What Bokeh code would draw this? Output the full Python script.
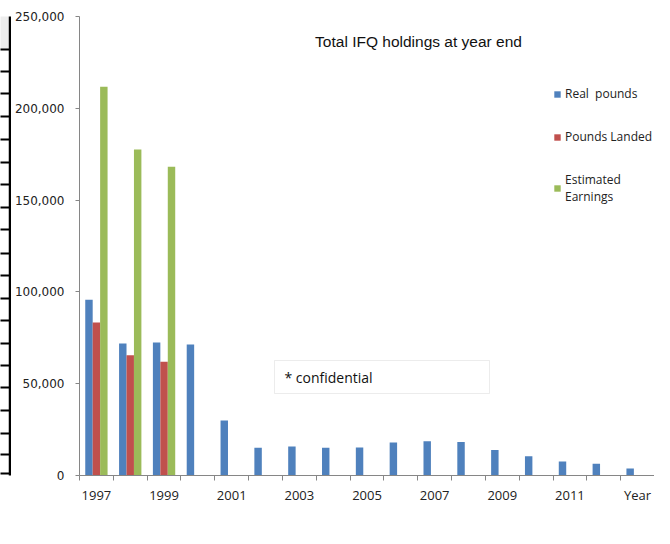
from bokeh.plotting import figure
from bokeh.layouts import row
from bokeh.models import (FixedTicker, NumeralTickFormatter, Range1d, Legend, LegendItem,
                          Label, BoxAnnotation, ColumnDataSource)
from bokeh.embed import file_html
from bokeh.resources import INLINE

# ---- data ----
years = list(range(1997, 2014))
real_pounds = [95700, 71900, 72400, 71400, 30000, 15100, 15800, 15100, 15300,
               18000, 18700, 18300, 13900, 10500, 7600, 6400, 3800]
landed_years = [1997, 1998, 1999]
pounds_landed = [83300, 65500, 61900]
estimated_earnings = [211700, 177600, 168100]
label_years = [1997, 1999, 2001, 2003, 2005, 2007, 2009, 2011, 2013]
tick_labels = ["1997", "1999", "2001", "2003", "2005", "2007", "2009", "2011", "Year"]
y_ticks = [0, 50000, 100000, 150000, 200000, 250000]
series_names = ["Real  pounds", "Pounds Landed", "Estimated\nEarnings"]
title_text = "Total IFQ holdings at year end"
note_text = "* confidential"

BLUE, RED, GREEN = "#4F81BD", "#C0504D", "#9BBB59"
FONT = "Open Sans"
TOP, BOTTOM = 16, 53

# ---- left page fragment (table border cut off in the screenshot) ----
edge = figure(width=11, height=528, output_backend="svg", toolbar_location=None,
              x_range=Range1d(3, 14), y_range=Range1d(528 - BOTTOM, TOP),
              x_axis_location=None, y_axis_location=None)
edge.grid.visible = False
edge.outline_line_color = None
edge.min_border = 0
edge.min_border_top = TOP
edge.min_border_bottom = BOTTOM
edge_rule_y = [49, 71, 93, 116, 139, 162, 184, 207, 229, 253, 275, 298, 320,
               343, 365, 387, 410, 433, 454, 473]
edge.quad(left=[0], right=[11], top=[0], bottom=[49], fill_color="#EDEDED", line_color=None)
edge.segment(x0=[0] * len(edge_rule_y), x1=[12] * len(edge_rule_y),
             y0=edge_rule_y, y1=edge_rule_y, line_color="black", line_width=2)
edge.segment(x0=[12.5], x1=[12.5], y0=[0], y1=[528], line_color="black", line_width=2.5)

# ---- chart ----
p = figure(width=643, height=528, output_backend="svg", toolbar_location=None,
           x_range=Range1d(years[0] - 0.5, years[-1] + 0.5),
           y_range=Range1d(0, 250000))
p.min_border_left = 60
p.min_border_top = TOP
p.min_border_bottom = BOTTOM
p.min_border_right = 0
p.outline_line_color = None
p.xgrid.grid_line_color = None
p.ygrid.grid_line_color = None
p.background_fill_color = "white"
p.border_fill_color = "white"

w = 0.22
src_real = ColumnDataSource(dict(x=[y - 0.22 for y in years], top=real_pounds))
src_land = ColumnDataSource(dict(x=[y + 0.0 for y in landed_years], top=pounds_landed))
src_earn = ColumnDataSource(dict(x=[y + 0.22 for y in landed_years], top=estimated_earnings))
r1 = p.vbar(x="x", top="top", width=w, source=src_real, fill_color=BLUE, line_color=None)
r2 = p.vbar(x="x", top="top", width=w, source=src_land, fill_color=RED, line_color=None)
r3 = p.vbar(x="x", top="top", width=w, source=src_earn, fill_color=GREEN, line_color=None)

# y axis
yax = p.yaxis[0]
yax.ticker = FixedTicker(ticks=y_ticks, minor_ticks=[])
yax.formatter = NumeralTickFormatter(format="0,0")
yax.axis_line_color = "#868686"
yax.major_tick_line_color = "#868686"
yax.major_tick_out = 4
yax.major_tick_in = 0
yax.minor_tick_line_color = None
yax.major_label_text_font = "DejaVu Sans"
yax.major_label_text_font_size = "12px"
yax.major_label_text_color = "#222222"
yax.major_label_standoff = 11

# x axis
xax = p.xaxis[0]
xax.ticker = FixedTicker(ticks=label_years,
                         minor_ticks=[y - 0.5 for y in years] + [years[-1] + 0.5])
xax.major_label_overrides = {t: l for t, l in zip(label_years, tick_labels)}
xax.axis_line_color = "#868686"
xax.major_tick_line_color = None
xax.minor_tick_line_color = "#868686"
xax.minor_tick_out = 5
xax.minor_tick_in = 0
xax.major_label_text_font = FONT
xax.major_label_text_font_size = "13px"
xax.major_label_text_color = "#222222"
xax.major_label_standoff = 4

# legend
legend = Legend(items=[LegendItem(label=series_names[0], renderers=[r1]),
                       LegendItem(label=series_names[1], renderers=[r2]),
                       LegendItem(label=series_names[2], renderers=[r3])],
                location=(474, 270))
legend.border_line_color = None
legend.background_fill_alpha = 0
legend.padding = 0
legend.margin = 0
legend.glyph_width = 8
legend.glyph_height = 8
legend.label_height = 14
legend.label_standoff = 4
legend.spacing = 26
legend.label_text_font = FONT
legend.label_text_font_size = "12px"
legend.label_text_color = "#222222"
p.add_layout(legend)

# title inside plot area
p.add_layout(Label(x=339, y=434, x_units="screen", y_units="screen", text=title_text,
                   text_font="Liberation Sans", text_font_size="15.5px",
                   text_align="center", text_baseline="middle", text_color="#111111"))

# confidential box
p.add_layout(BoxAnnotation(left=195, right=410, top=115, bottom=82,
                           left_units="screen", right_units="screen",
                           top_units="screen", bottom_units="screen",
                           fill_color="white", fill_alpha=1,
                           line_color="#BFBFBF", line_width=1))
p.add_layout(Label(x=205, y=98, x_units="screen", y_units="screen", text=note_text,
                   text_font=FONT, text_font_size="14px", text_baseline="middle",
                   text_color="#111111"))

layout = row(edge, p)
open("out.html", "w").write(file_html(layout, INLINE))
